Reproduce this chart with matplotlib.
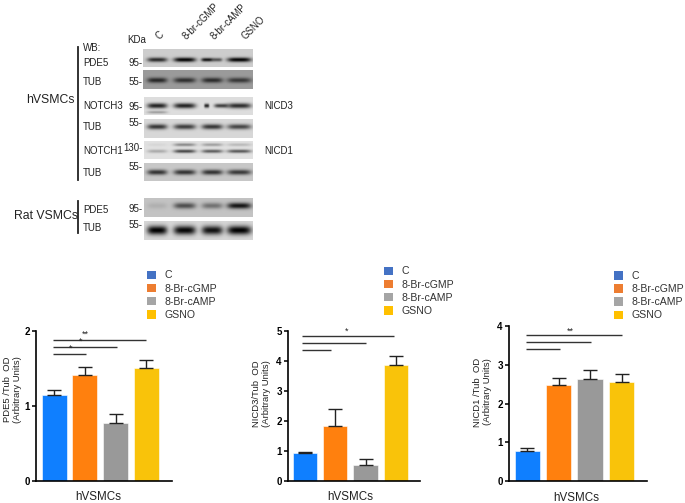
import matplotlib
matplotlib.use('Agg')
import matplotlib.pyplot as plt
import numpy as np
from matplotlib.patches import Patch

plt.rcParams['font.family'] = ['Liberation Sans', 'DejaVu Sans']

W, H = 685, 503

# bar chart data
conditions = ['C', '8-Br-cGMP', '8-Br-cAMP', 'GSNO']
pde5_vals = [1.15, 1.41, 0.77, 1.51]
pde5_err = [0.07, 0.11, 0.12, 0.11]
nicd3_vals = [0.92, 1.85, 0.52, 3.87]
nicd3_err = [0.04, 0.55, 0.23, 0.31]
nicd1_vals = [0.78, 2.47, 2.62, 2.55]
nicd1_err = [0.07, 0.20, 0.25, 0.22]

bar_colors = ['#0f7fff', '#ff800e', '#999999', '#f9c30a']
legend_colors = ['#4472c4', '#ed7d31', '#a5a5a5', '#ffc000']

# blot band darkness per lane (0 = nothing, 1 = black)
lanes_pde5 = [0.8, 1.0, 0.0, 1.0]
lanes_tub1 = [0.75, 0.7, 0.72, 0.65]
lanes_notch3 = [0.85, 0.85, 0.0, 0.8]
lanes_notch3_low = [0.3, 0.0, 0.0, 0.0]
lanes_tub2 = [0.75, 0.72, 0.75, 0.68]
lanes_notch1 = [0.25, 0.7, 0.6, 0.62]
lanes_notch1_up = [0.05, 0.4, 0.3, 0.18]
lanes_tub3 = [0.75, 0.75, 0.75, 0.72]
lanes_rat_pde5 = [0.1, 0.6, 0.42, 0.9]
lanes_rat_tub = [1.0, 0.97, 0.92, 1.0]
# split bands in the 8-br-cAMP lane
split_pde5 = [0.92, 0.6]
split_notch3 = [0.85, 0.72]

fig = plt.figure(figsize=(W / 100, H / 100), dpi=100)
fig.patch.set_facecolor('white')

# overlay in pixel coordinates for the blot part
ov = fig.add_axes([0, 0, 1, 1])
ov.set_xlim(0, W)
ov.set_ylim(H, 0)
ov.axis('off')

lane_x = [157, 184.5, 212, 239]
lane_w = [10, 11, 10.5, 12]


def blot(x0, x1, y0, y1, bg, bands):
    # bands: list of (y centre, thickness, darkness per lane, optional x and width)
    xx, yy = np.meshgrid(np.arange(x0, x1, 0.5), np.arange(y0, y1, 0.5))
    img = np.full(xx.shape, float(bg))
    for band in bands:
        yc, th, lanes = band[:3]
        xs = band[3] if len(band) > 3 else lane_x
        ws = band[4] if len(band) > 3 else lane_w
        for lx, lw, d in zip(xs, ws, lanes):
            g = np.exp(-((xx - lx) / lw) ** 4) * np.exp(-((yy - yc) / th) ** 2)
            img = img * (1 - d * g)
    ov.imshow(img, cmap='gray', vmin=0, vmax=255, extent=[x0, x1, y1, y0],
              aspect='auto', interpolation='bilinear', zorder=1)


blot(143, 253, 49, 67, 205, [(59.5, 2.2, lanes_pde5),
                             (59.5, 1.8, split_pde5, [207, 217], [6, 5])])
blot(143, 253, 70, 89, 155, [(80, 2.6, lanes_tub1)])
blot(144, 253, 97, 115, 222, [(105.5, 2.6, lanes_notch3), (112, 1.3, lanes_notch3_low),
                              (105.5, 2.0, split_notch3, [206.5, 221], [2.5, 7])])
blot(144, 253, 119, 138, 215, [(126.5, 2.6, lanes_tub2)])
blot(144, 253, 141, 159, 225, [(151, 1.7, lanes_notch1), (144.5, 1.5, lanes_notch1_up)])
blot(144, 253, 163, 181, 200, [(172, 2.6, lanes_tub3)])
blot(144, 253, 198, 217, 195, [(205.5, 3.0, lanes_rat_pde5)])
blot(144, 253, 221, 240, 215, [(230, 4.4, lanes_rat_tub)])
ov.set_xlim(0, W)
ov.set_ylim(H, 0)

# brackets
ov.plot([78, 78], [47, 180], color='#222222', lw=1.3)
ov.plot([78, 78], [201, 233], color='#222222', lw=1.3)

fs = 7.0
ov.text(26, 100, 'hVSMCs', fontsize=8.8, va='center', color='#222222')
ov.text(14, 216, 'Rat VSMCs', fontsize=8.8, va='center', color='#222222')
ov.text(83, 48, 'WB:', fontsize=fs, va='center', color='#222222')
row_labels = ['PDE5', 'TUB', 'NOTCH3', 'TUB', 'NOTCH1', 'TUB', 'PDE5', 'TUB']
row_y = [63, 82, 106, 127, 151, 173, 210, 228]
for lab, y in zip(row_labels, row_y):
    ov.text(83, y, lab, fontsize=fs, va='center', color='#222222')

ov.text(264, 106, 'NICD3', fontsize=fs, va='center', color='#222222')
ov.text(264, 151, 'NICD1', fontsize=fs, va='center', color='#222222')
ov.text(127.5, 40, 'KDa', fontsize=fs, va='center', color='#222222')

mw_labels = ['95-', '55-', '95-', '55-', '130-', '55-', '95-', '55-']
mw_y = [63, 82, 107, 123, 148, 167, 209, 225]
for lab, y in zip(mw_labels, mw_y):
    ov.text(143, y, lab, fontsize=fs, va='center', ha='right', color='#222222')

col_labels = ['C', '8-br-cGMP', '8-br-cAMP', 'GSNO']
col_x = [161, 188, 216, 247]
for lab, x in zip(col_labels, col_x):
    ov.text(x, 41, lab, fontsize=6.9, rotation=45, rotation_mode='anchor',
            ha='left', va='bottom', color='#222222')


def bar_panel(px_left, px_right, px_top, px_bottom, xlim, vals, errs, ymax,
              ylabel, sig_y, sig_x0, sig_ends, stars, xlab_x, xlab_pad, ylab_y, ylab_pad):
    ax = fig.add_axes([px_left / W, 1 - px_bottom / H,
                       (px_right - px_left) / W, (px_bottom - px_top) / H])
    x = np.arange(len(vals))
    ax.bar(x, vals, width=0.81, color=bar_colors, edgecolor='white', linewidth=0.4)
    ax.errorbar(x, vals, yerr=[np.zeros(len(vals)), errs], fmt='none', ecolor='#222222',
                elinewidth=1.0, capsize=5.2, capthick=1.0)
    for yv, xe in zip(sig_y, sig_ends):
        ax.plot([sig_x0, xe], [yv, yv], color='#333333', lw=1.0, solid_capstyle='butt')
    for sx, sy, txt in stars:
        ax.text(sx, sy, txt, fontsize=6.5, ha='center', va='center', color='#222222')
    ax.set_xlim(*xlim)
    ax.set_ylim(0, ymax)
    ax.set_xticks([])
    ax.set_yticks(range(0, ymax + 1))
    ax.tick_params(axis='y', length=3, width=1.2, labelsize=7, pad=1.5, color='#111111')
    for t in ax.get_yticklabels():
        t.set_fontweight('bold')
    ax.spines['top'].set_visible(False)
    ax.spines['right'].set_visible(False)
    ax.spines['left'].set_linewidth(1.2)
    ax.spines['bottom'].set_linewidth(1.2)
    ax.set_ylabel(ylabel, fontsize=6.8, y=ylab_y, labelpad=ylab_pad, linespacing=1.15, color='#222222')
    ax.set_xlabel('hVSMCs', fontsize=8.4, x=xlab_x, labelpad=xlab_pad, color='#222222')
    return ax


bar_panel(36, 172, 331, 481, (-0.59, 3.84), pde5_vals, pde5_err, 2,
          'PDE5 /Tub  OD\n(Arbitrary Units)',
          [1.885, 1.79, 1.69], -0.05, [3, 2.05, 1.03],
          [(1.03, 1.96, '**'), (0.85, 1.87, '*'), (0.55, 1.77, '*')], 0.46, 7, 0.61, 1.5)
bar_panel(288, 420, 331, 481, (-0.56, 3.8), nicd3_vals, nicd3_err, 5,
          'NICD3/Tub  OD\n(Arbitrary Units)',
          [4.82, 4.59, 4.37], -0.1, [2.93, 2.0, 0.85],
          [(1.37, 5.0, '*')], 0.475, 7, 0.58, 4)
bar_panel(509, 647, 326, 481, (-0.58, 3.81), nicd1_vals, nicd1_err, 4,
          'NICD1 /Tub  OD\n(Arbitrary Units)',
          [3.76, 3.59, 3.40], -0.05, [3, 2.02, 1.03],
          [(1.36, 3.87, '**')], 0.49, 8, 0.574, 4)

# legends
handles = [Patch(facecolor=c, edgecolor='none') for c in legend_colors]
for lx, ly in [(147, 270.5), (384, 266.5), (614, 271)]:
    fig.legend(handles, conditions, loc='upper left', bbox_to_anchor=(lx / W, 1 - ly / H),
               frameon=False, borderpad=0, borderaxespad=0, fontsize=7.6,
               handlelength=0.85, handleheight=0.85, handletextpad=0.85,
               labelspacing=0.3, labelcolor='#333333')

fig.savefig('out.png', dpi=100)
